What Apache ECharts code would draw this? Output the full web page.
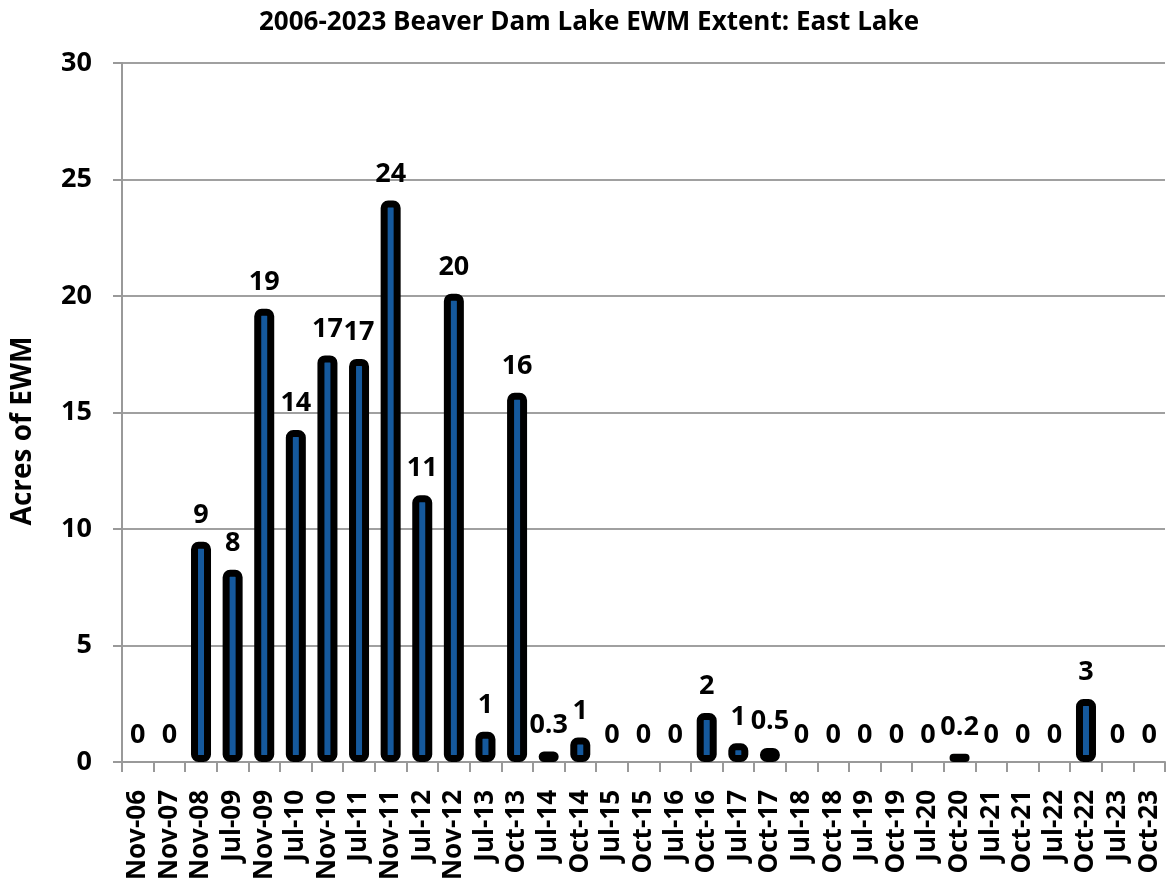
<!DOCTYPE html>
<html>
<head>
<meta charset="utf-8">
<script src="https://cdn.jsdelivr.net/npm/echarts@6/dist/echarts.min.js"></script>
<style>
html,body{margin:0;padding:0;background:#fff;}
#chart{width:1169px;height:888px;}
</style>
</head>
<body>
<div id="chart"></div>
<script>
var categories = ['Nov-06','Nov-07','Nov-08','Jul-09','Nov-09','Jul-10','Nov-10','Jul-11','Nov-11','Jul-12','Nov-12','Jul-13','Oct-13','Jul-14','Oct-14','Jul-15','Oct-15','Jul-16','Oct-16','Jul-17','Oct-17','Jul-18','Oct-18','Jul-19','Oct-19','Jul-20','Oct-20','Jul-21','Oct-21','Jul-22','Oct-22','Jul-23','Oct-23'];
var acres = [0,0,9.45,8.25,19.45,14.25,17.45,17.3,24.1,11.45,20.1,1.3,15.85,0.45,1.05,0,0,0,2.1,0.8,0.6,0,0,0,0,0,0.35,0,0,0,2.7,0,0];
var labelText = ['0','0','9','8','19','14','17','17','24','11','20','1','16','0.3','1','0','0','0','2','1','0.5','0','0','0','0','0','0.2','0','0','0','3','0','0'];
var yTicks = [0,5,10,15,20,25,30];

var FONT = '"Open Sans", "DejaVu Sans", sans-serif';
var chart = echarts.init(document.getElementById('chart'));

var seriesData = acres.map(function(v, i){
  var item = {value: v, label: {formatter: labelText[i]}};
  if (v === 0) item.itemStyle = {borderWidth: 0, color: 'transparent'};
  return item;
});

chart.setOption({
  animation: false,
  backgroundColor: '#fff',
  title: {
    text: '2006-2023 Beaver Dam Lake EWM Extent: East Lake',
    left: 584, top: 5, textAlign: 'center',
    textStyle: {fontFamily: FONT, fontWeight: 'bold', fontSize: 26, color: '#000'}
  },
  graphic: [{
    type: 'text',
    x: 23, y: 431,
    rotation: Math.PI / 2,
    style: {
      text: 'Acres of EWM',
      fontFamily: FONT, fontWeight: 'bold', fontSize: 28, fill: '#000',
      align: 'center', verticalAlign: 'middle'
    }
  }],
  grid: {left: 122, right: 4, top: 63, bottom: 126, containLabel: false},
  xAxis: {
    type: 'category',
    data: categories,
    boundaryGap: true,
    axisLine: {lineStyle: {color: '#999', width: 2}},
    axisTick: {show: true, alignWithLabel: false, length: 10, lineStyle: {color: '#999', width: 2}},
    axisLabel: {rotate: 90, interval: 0, margin: 28, fontFamily: FONT, fontWeight: 'bold', fontSize: 26, color: '#000'}
  },
  yAxis: {
    type: 'value',
    min: yTicks[0], max: yTicks[yTicks.length-1], interval: 5,
    axisLine: {show: true, lineStyle: {color: '#999', width: 2}},
    axisTick: {show: true, inside: false, length: 9, lineStyle: {color: '#999', width: 2}},
    axisLabel: {margin: 30, fontFamily: FONT, fontWeight: 'bold', fontSize: 27, color: '#000'},
    splitLine: {show: true, lineStyle: {color: '#a0a0a0', width: 2}}
  },
  series: [{
    type: 'bar',
    data: seriesData,
    barWidth: 20,
    itemStyle: {color: '#15599d', borderColor: '#000', borderWidth: 7, borderRadius: 4},
    label: {
      show: true, position: 'top', distance: 13,
      fontFamily: FONT, fontWeight: 'bold', fontSize: 27, color: '#000'
    }
  }]
});
</script>
</body>
</html>
